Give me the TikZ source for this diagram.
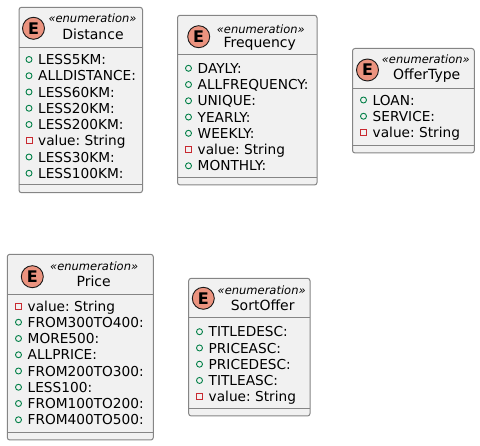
\documentclass[tikz,border=0pt]{standalone}
\usepackage{fontspec}
\setmainfont{DejaVu Sans}

\definecolor{clsfill}{HTML}{F1F1F1}
\definecolor{clsline}{HTML}{858585}
\definecolor{spot}{HTML}{EB937F}
\definecolor{pubgreen}{HTML}{038048}
\definecolor{privred}{HTML}{C82930}

\begin{document}
\frenchspacing
\begin{tikzpicture}[x=1pt,y=-1pt,
        cls/.style={draw=clsline,fill=clsfill,line width=1pt,rounded corners=2.5pt},
        sep/.style={draw=clsline,line width=1pt},
        pub/.style={draw=pubgreen,line width=0.9pt},
        priv/.style={draw=privred,line width=0.9pt}]
        \useasboundingbox (0,0) rectangle (480,446);

        % Class boxes
        \draw[cls] (19,7.3) rectangle (142.5,192.7);
        \draw[cls] (177.5,15.3) rectangle (317,185);
        \draw[cls] (352.5,48.5) rectangle (474.3,153);
        \draw[cls] (7.3,254.3) rectangle (153.3,440);
        \draw[cls] (188.7,278.3) rectangle (310,416);

        \draw[sep] (19,47.5) -- (142.5,47.5)
                   (19,185) -- (142.5,185)
                   (177.5,55) -- (317,55)
                   (177.5,177.3) -- (317,177.3)
                   (352.5,88.7) -- (474.3,88.7)
                   (352.5,145.3) -- (474.3,145.3)
                   (7.3,294.3) -- (153.3,294.3)
                   (7.3,432.3) -- (153.3,432.3)
                   (188.7,317.7) -- (310,317.7)
                   (188.7,408.3) -- (310,408.3);

        \begin{scope}[every node/.style={draw=black!90,fill=spot,circle,minimum size=22pt,inner sep=0pt,line width=0.9pt,font=\fontsize{16}{16}\selectfont\bfseries}]
        % Spots
        \node (distE) at (33.5,28.3) {E};
        \node (freqE) at (198.7,36.7) {E};
        \node (typeE) at (367.5,70) {E};
        \node (priceE) at (32.3,276.7) {E};
        \node (sortE) at (203.3,298.3) {E};
        \end{scope}

        \begin{scope}[every node/.style={inner sep=0pt,anchor=base,font=\fontsize{11.5}{12}\selectfont\itshape}]
        % Stereotypes
        \node (distS) at (92.5,23) {«enumeration»};
        \node (freqS) at (260.8,33.3) {«enumeration»};
        \node (typeS) at (425.8,64) {«enumeration»};
        \node (priceS) at (94.2,270.7) {«enumeration»};
        \node (sortS) at (261.7,294.7) {«enumeration»};
        \end{scope}

        \begin{scope}[every node/.style={inner sep=0pt,anchor=base,font=\fontsize{14}{16}\selectfont}]
        % Class names
        \node (distN) at (93,39.4) {Distance};
        \node (freqN) at (259.7,47.8) {Frequency};
        \node (typeN) at (426.7,79.4) {OfferType};
        \node (priceN) at (93.7,286.1) {Price};
        \node (sortN) at (262.7,310.1) {SortOffer};
        \end{scope}

        \begin{scope}[every node/.style={inner sep=0pt,anchor=base west,font=\fontsize{13.7}{16}\selectfont}]
        % Distance
        \node (d1) at (38,64.6) {LESS5KM:};
        \node (d2) at (38,80.85) {ALLDISTANCE:};
        \node (d3) at (38,97.1) {LESS60KM:};
        \node (d4) at (38,113.35) {LESS20KM:};
        \node (d5) at (38,129.6) {LESS200KM:};
        \node (d6) at (38,145.85) {value: String};
        \node (d7) at (38,162.1) {LESS30KM:};
        \node (d8) at (38,178.35) {LESS100KM:};

        % Frequency
        \node (f1) at (197.5,73.4) {DAYLY:};
        \node (f2) at (197.5,89.65) {ALLFREQUENCY:};
        \node (f3) at (197.5,105.9) {UNIQUE:};
        \node (f4) at (197.5,122.15) {YEARLY:};
        \node (f5) at (197.5,138.4) {WEEKLY:};
        \node (f6) at (197.5,154.65) {value: String};
        \node (f7) at (197.5,170.9) {MONTHLY:};

        % OfferType
        \node (o1) at (372.5,105.1) {LOAN:};
        \node (o2) at (372.5,121.35) {SERVICE:};
        \node (o3) at (372.5,137.6) {value: String};

        % Price
        \node (p1) at (27.5,311.1) {value: String};
        \node (p2) at (27.5,327.35) {FROM300TO400:};
        \node (p3) at (27.5,343.6) {MORE500:};
        \node (p4) at (27.5,359.85) {ALLPRICE:};
        \node (p5) at (27.5,376.1) {FROM200TO300:};
        \node (p6) at (27.5,392.35) {LESS100:};
        \node (p7) at (27.5,408.6) {FROM100TO200:};
        \node (p8) at (27.5,424.85) {FROM400TO500:};

        % SortOffer
        \node (s1) at (208.5,336.8) {TITLEDESC:};
        \node (s2) at (208.5,353.05) {PRICEASC:};
        \node (s3) at (208.5,369.3) {PRICEDESC:};
        \node (s4) at (208.5,385.55) {TITLEASC:};
        \node (s5) at (208.5,401.8) {value: String};
        \end{scope}

        % Visibility marks
        \draw[pub] ([shift={(-9,-5.1)}]d1.base west) circle (3)
                   ([shift={(-9,-5.1)}]d2.base west) circle (3)
                   ([shift={(-9,-5.1)}]d3.base west) circle (3)
                   ([shift={(-9,-5.1)}]d4.base west) circle (3)
                   ([shift={(-9,-5.1)}]d5.base west) circle (3)
                   ([shift={(-9,-5.1)}]d7.base west) circle (3)
                   ([shift={(-9,-5.1)}]d8.base west) circle (3)
                   ([shift={(-9,-5.1)}]f1.base west) circle (3)
                   ([shift={(-9,-5.1)}]f2.base west) circle (3)
                   ([shift={(-9,-5.1)}]f3.base west) circle (3)
                   ([shift={(-9,-5.1)}]f4.base west) circle (3)
                   ([shift={(-9,-5.1)}]f5.base west) circle (3)
                   ([shift={(-9,-5.1)}]f7.base west) circle (3)
                   ([shift={(-9,-5.1)}]o1.base west) circle (3)
                   ([shift={(-9,-5.1)}]o2.base west) circle (3)
                   ([shift={(-9,-5.1)}]p2.base west) circle (3)
                   ([shift={(-9,-5.1)}]p3.base west) circle (3)
                   ([shift={(-9,-5.1)}]p4.base west) circle (3)
                   ([shift={(-9,-5.1)}]p5.base west) circle (3)
                   ([shift={(-9,-5.1)}]p6.base west) circle (3)
                   ([shift={(-9,-5.1)}]p7.base west) circle (3)
                   ([shift={(-9,-5.1)}]p8.base west) circle (3)
                   ([shift={(-9,-5.1)}]s1.base west) circle (3)
                   ([shift={(-9,-5.1)}]s2.base west) circle (3)
                   ([shift={(-9,-5.1)}]s3.base west) circle (3)
                   ([shift={(-9,-5.1)}]s4.base west) circle (3);
        \draw[priv] ([shift={(-12,-8.1)}]d6.base west) rectangle +(6,6)
                    ([shift={(-12,-8.1)}]f6.base west) rectangle +(6,6)
                    ([shift={(-12,-8.1)}]o3.base west) rectangle +(6,6)
                    ([shift={(-12,-8.1)}]p1.base west) rectangle +(6,6)
                    ([shift={(-12,-8.1)}]s5.base west) rectangle +(6,6);

    \end{tikzpicture}
\end{document}
